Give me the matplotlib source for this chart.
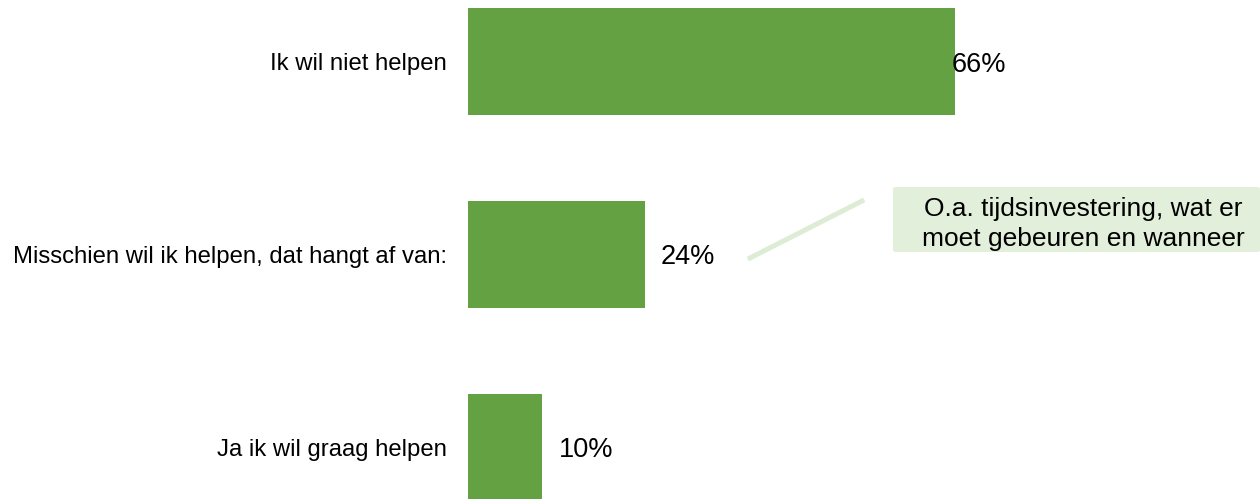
import matplotlib.pyplot as plt
from matplotlib.patches import FancyBboxPatch

plt.rcParams['font.family'] = ['Liberation Sans', 'DejaVu Sans']

categories = ['Ja ik wil graag helpen', 'Misschien wil ik helpen, dat hangt af van:', 'Ik wil niet helpen']
values = [10, 24, 66]
labels = ['10%', '24%', '66%']
note = 'O.a. tijdsinvestering, wat er\nmoet gebeuren en wanneer'

W, H = 1260, 499
fig = plt.figure(figsize=(W / 100, H / 100), dpi=100)
ax = fig.add_axes([468 / W, 0, (W - 468) / W, 1])

ax.barh(range(len(values)), values, height=0.555, color='#63A142')
ax.set_xlim(0, (W - 468) / 7.38)
ax.set_ylim(-0.269, 2.319)

# label offsets in pixels, as in the original
offs = [17, 16, -3]
for i, (v, lab) in enumerate(zip(values, labels)):
    ax.annotate(lab, (v, i), xytext=(offs[i], -3), textcoords='offset pixels',
                ha='left', va='center', fontsize=19.5)

ax.set_yticks(range(len(categories)))
ax.set_yticklabels(categories, fontsize=17.2)
ax.tick_params(axis='y', length=0, pad=15)
ax.set_xticks([])
for s in ax.spines.values():
    s.set_visible(False)

# callout box and connector
box = FancyBboxPatch((893 / W, 1 - 252 / H), (W - 893) / W, 65 / H,
                     boxstyle='round,pad=0,rounding_size=0.003',
                     transform=fig.transFigure, facecolor='#E2EFDA',
                     edgecolor='none')
fig.patches.append(box)
fig.text(1083 / W, 1 - 224 / H, note, ha='center', va='center',
         fontsize=19, linespacing=1.3)
fig.add_artist(plt.Line2D([750 / W, 862 / W], [1 - 258 / H, 1 - 201 / H],
                          transform=fig.transFigure, color='#DDEDD5', lw=3.6))

fig.savefig('out.png', dpi=100)
